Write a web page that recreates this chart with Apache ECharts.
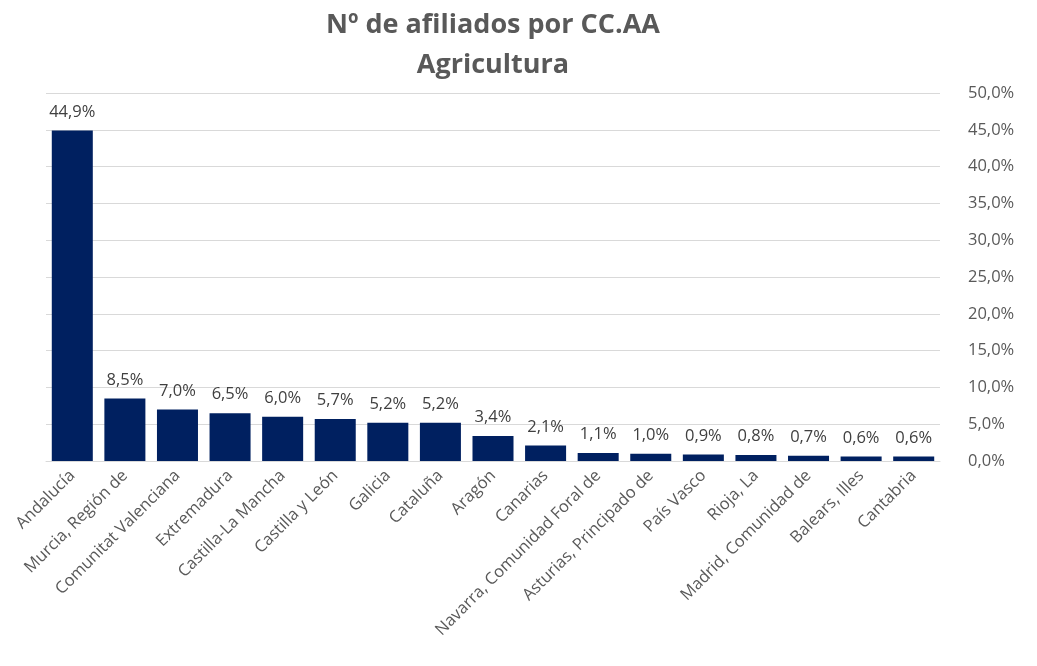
<!DOCTYPE html>
<html>
<head>
<meta charset="utf-8">
<script src="https://cdn.jsdelivr.net/npm/echarts@6/dist/echarts.min.js"></script>
<style>
  html, body { margin: 0; padding: 0; background: #fff; }
  #chart { width: 1037px; height: 666px; }
</style>
</head>
<body>
<div id="chart"></div>
<script>
const categories = ["Andalucía", "Murcia, Región de", "Comunitat Valenciana", "Extremadura", "Castilla-La Mancha",
  "Castilla y León", "Galicia", "Cataluña", "Aragón", "Canarias", "Navarra, Comunidad Foral de",
  "Asturias, Principado de", "País Vasco", "Rioja, La", "Madrid, Comunidad de", "Balears, Illes", "Cantabria"]
const shares = [44.9, 8.5, 7.0, 6.5, 6.0, 5.7, 5.2, 5.2, 3.4, 2.1, 1.1, 1.0, 0.9, 0.8, 0.7, 0.6, 0.6]

const fmt = v => v.toFixed(1).replace(".", ",") + "%"
const font = "'Open Sans', 'Noto Sans', sans-serif"

const chart = echarts.init(document.getElementById("chart"))
chart.setOption({
  animation: false,
  title: {
    text: "Nº de afiliados por CC.AA\nAgricultura",
    left: 488,
    top: 0,
    textAlign: "center",
    textStyle: { fontFamily: font, fontSize: 27, fontWeight: "bold", color: "#595959", lineHeight: 40 },
  },
  grid: { left: 46, right: 97, top: 93, bottom: 205 },
  xAxis: {
    type: "category",
    data: categories,
    axisLine: { lineStyle: { color: "#d9d9d9", width: 1 } },
    axisTick: { show: false },
    axisLabel: { rotate: 45, interval: 0, margin: 12, color: "#595959", fontFamily: font, fontSize: 16.5 },
  },
  yAxis: {
    type: "value",
    position: "right",
    min: 0,
    max: 50,
    interval: 5,
    axisLine: { show: false },
    axisTick: { show: false },
    splitLine: { lineStyle: { color: "#d9d9d9", width: 1 } },
    axisLabel: { formatter: fmt, margin: 28, color: "#595959", fontFamily: font, fontSize: 16.5 },
  },
  series: [
    {
      type: "bar",
      data: shares,
      barCategoryGap: "22%",
      itemStyle: { color: "#002060" },
      label: { show: true, position: "top", distance: 10, formatter: p => fmt(p.value), color: "#404040", fontFamily: font, fontSize: 16.5 },
    },
  ],
})
</script>
</body>
</html>
